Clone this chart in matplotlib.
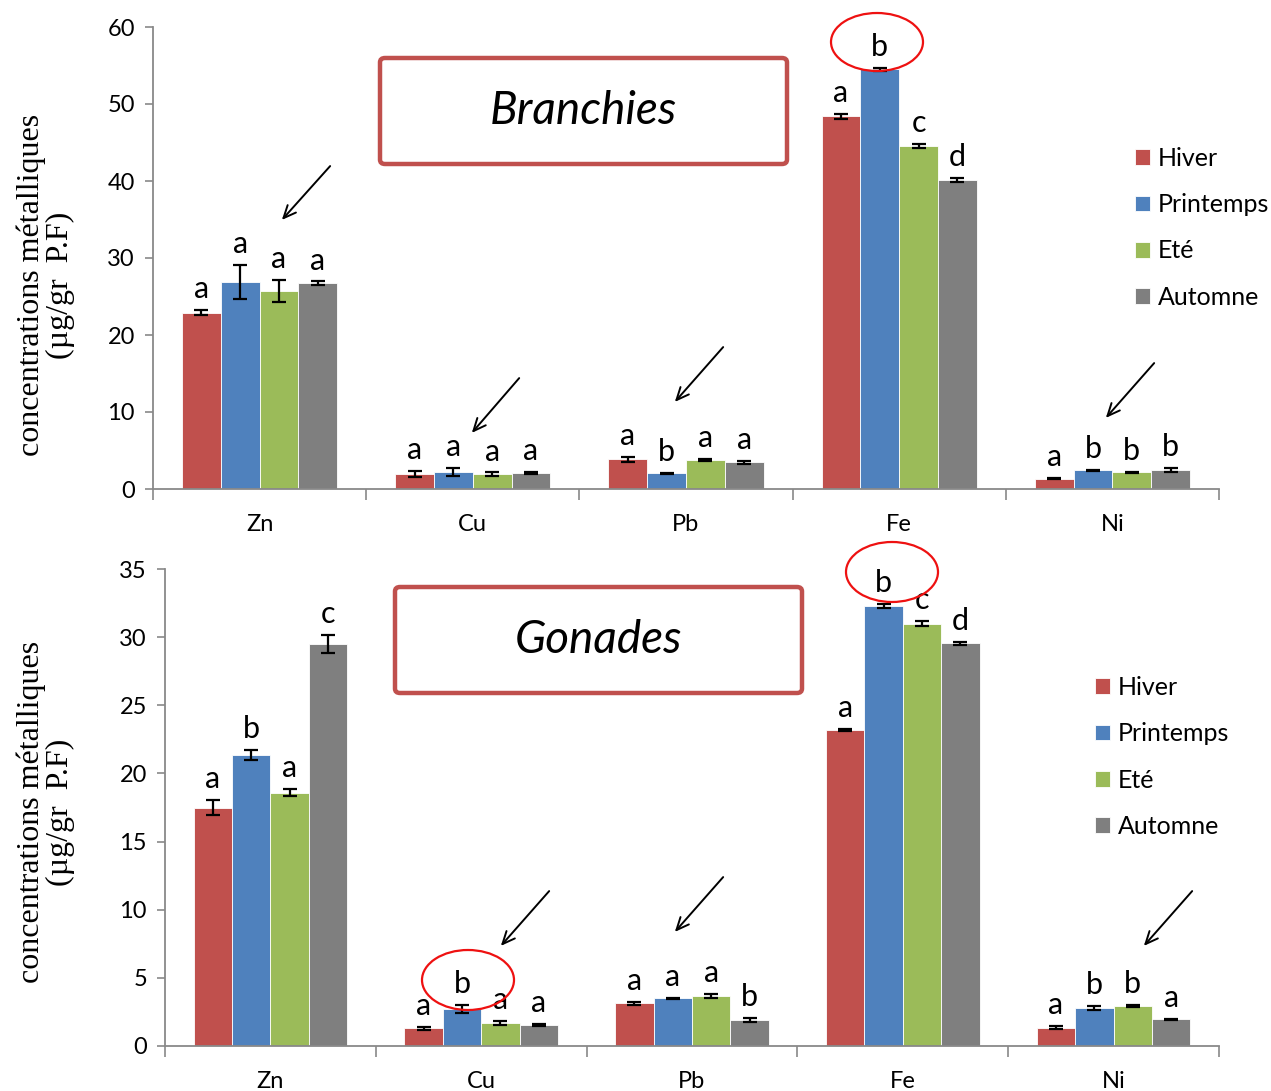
import numpy as np
import matplotlib
matplotlib.use("Agg")
import matplotlib.pyplot as plt
from matplotlib.patches import Ellipse, FancyBboxPatch, FancyArrowPatch

plt.rcParams['font.family'] = ['Lato', 'DejaVu Sans']

W, H = 1271, 1091

metals = ["Zn", "Cu", "Pb", "Fe", "Ni"]
seasons = ["Hiver", "Printemps", "Eté", "Automne"]
colors = ["#C0504D", "#4F81BD", "#9BBB59", "#7F7F7F"]

# Branchies : one list per season, in the order of `metals`
br_hiver = [22.9, 1.95, 3.85, 48.4, 1.34]
br_printemps = [26.9, 2.17, 2.03, 54.5, 2.43]
br_ete = [25.75, 1.95, 3.77, 44.5, 2.17]
br_automne = [26.75, 2.10, 3.46, 40.1, 2.47]
br_err_hiver = [0.3, 0.4, 0.3, 0.3, 0.1]
br_err_printemps = [2.2, 0.5, 0.1, 0.2, 0.1]
br_err_ete = [1.4, 0.2, 0.1, 0.25, 0.1]
br_err_automne = [0.2, 0.15, 0.15, 0.25, 0.25]
br_letters_hiver = ["a", "a", "a", "a", "a"]
br_letters_printemps = ["a", "a", "b", "b", "b"]
br_letters_ete = ["a", "a", "a", "c", "b"]
br_letters_automne = ["a", "a", "a", "d", "b"]

# Gonades
go_hiver = [17.5, 1.30, 3.13, 23.18, 1.35]
go_printemps = [21.35, 2.69, 3.50, 32.3, 2.79]
go_ete = [18.6, 1.66, 3.67, 31.0, 2.93]
go_automne = [29.5, 1.54, 1.88, 29.55, 1.96]
go_err_hiver = [0.55, 0.12, 0.1, 0.1, 0.1]
go_err_printemps = [0.4, 0.3, 0.05, 0.15, 0.12]
go_err_ete = [0.25, 0.15, 0.15, 0.2, 0.05]
go_err_automne = [0.65, 0.1, 0.15, 0.1, 0.05]
go_letters_hiver = ["a", "a", "a", "a", "a"]
go_letters_printemps = ["b", "b", "a", "b", "b"]
go_letters_ete = ["a", "a", "a", "c", "b"]
go_letters_automne = ["c", "a", "b", "d", "a"]


def fig_xy(px, py):
    # pixel position (top-left origin) -> figure fraction
    return px / W, 1 - py / H


def axes_rect(left, top, right, bottom):
    return [left / W, 1 - bottom / H, (right - left) / W, (bottom - top) / H]


def bar_panel(fig, rect, series, errors, letters, ymax, ystep, legend_xy, label_y):
    ax = fig.add_axes(rect)
    x = np.arange(len(metals))
    width = 0.182
    for i, (vals, errs, labs) in enumerate(zip(series, errors, letters)):
        pos = x + (i - 1.5) * width
        ax.bar(pos, vals, width, color=colors[i], edgecolor="white",
               linewidth=0.6, label=seasons[i], zorder=2)
        ax.errorbar(pos, vals, yerr=errs, fmt="none", ecolor="black",
                    elinewidth=1.6, capsize=5, capthick=1.6, zorder=3)
        for xp, v, e, lab in zip(pos, vals, errs, labs):
            ax.annotate(lab, (xp, v + e), xytext=(0, 5), textcoords="offset points",
                        ha="center", va="bottom", fontsize=22, zorder=4)
    ax.set_xlim(-0.5, len(metals) - 0.5)
    ax.set_ylim(0, ymax)
    ax.set_yticks(np.arange(0, ymax + 0.1, ystep))
    ax.set_xticks(x)
    ax.set_xticklabels(metals)
    ax.set_xticks(np.arange(-0.5, len(metals)), minor=True)
    ax.tick_params(axis="x", which="major", length=0, pad=18, labelsize=17)
    ax.tick_params(axis="x", which="minor", length=8, width=1.2, color="#898989",
                   direction="out")
    ax.tick_params(axis="y", length=6, width=1.2, color="#898989", labelsize=17, pad=7)
    for side in ["top", "right"]:
        ax.spines[side].set_visible(False)
    for side in ["left", "bottom"]:
        ax.spines[side].set_color("#898989")
        ax.spines[side].set_linewidth(1.3)
    lx, ly = fig_xy(46, label_y)
    fig.text(lx, ly, u"concentrations métalliques\n(µg/gr  P.F)", rotation=90,
             ha="center", va="center", family="Liberation Serif", fontsize=23,
             linespacing=1.0)
    ax.legend(loc="upper left", bbox_to_anchor=fig_xy(*legend_xy),
              bbox_transform=fig.transFigure, frameon=False,
              fontsize=18, handlelength=0.6, handleheight=0.6,
              handletextpad=0.3, labelspacing=0.93, borderpad=0,
              borderaxespad=0)
    return ax


def title_box(fig, left, top, right, bottom, text):
    x0, y1 = fig_xy(left, top)
    x1, y0 = fig_xy(right, bottom)
    box = FancyBboxPatch((x0, y0), x1 - x0, y1 - y0,
                         boxstyle="round,pad=0,rounding_size=0.004",
                         transform=fig.transFigure, facecolor="white",
                         edgecolor="#C0504D", linewidth=3.2, zorder=5)
    fig.add_artist(box)
    fig.text((x0 + x1) / 2, (y0 + y1) / 2, text, ha="center", va="center",
             fontsize=33, style="italic", zorder=6)


def red_circle(fig, cx, cy, w, h):
    xy = fig_xy(cx, cy)
    fig.add_artist(Ellipse(xy, w / W, h / H, transform=fig.transFigure,
                           facecolor="none", edgecolor="#EE1111", linewidth=1.6,
                           zorder=7))


def arrow(fig, tail, head):
    fig.add_artist(FancyArrowPatch(
        fig_xy(*tail), fig_xy(*head), transform=fig.transFigure,
        arrowstyle="->,head_length=9,head_width=4", mutation_scale=1,
        color="black", linewidth=1.4, zorder=7))


fig = plt.figure(figsize=(W / 100, H / 100), dpi=100)

bar_panel(fig, axes_rect(153, 27, 1219, 489),
          [br_hiver, br_printemps, br_ete, br_automne],
          [br_err_hiver, br_err_printemps, br_err_ete, br_err_automne],
          [br_letters_hiver, br_letters_printemps, br_letters_ete, br_letters_automne],
          60, 10, (1135, 147), 285)

bar_panel(fig, axes_rect(165, 569, 1219, 1046),
          [go_hiver, go_printemps, go_ete, go_automne],
          [go_err_hiver, go_err_printemps, go_err_ete, go_err_automne],
          [go_letters_hiver, go_letters_printemps, go_letters_ete, go_letters_automne],
          35, 5, (1095, 676), 812)

title_box(fig, 380, 58, 787, 164, "Branchies")
title_box(fig, 395, 587, 802, 693, "Gonades")

red_circle(fig, 877, 42, 92, 58)
red_circle(fig, 892, 572, 92, 60)
red_circle(fig, 468, 980, 92, 60)

for tail, head in [((332, 164), (280, 222)), ((521, 376), (470, 435)),
                   ((725, 345), (673, 404)), ((1156, 361), (1104, 420)),
                   ((551, 889), (499, 948)), ((725, 875), (673, 934)),
                   ((1194, 889), (1142, 948))]:
    arrow(fig, tail, head)

fig.savefig("out.png", dpi=100)
